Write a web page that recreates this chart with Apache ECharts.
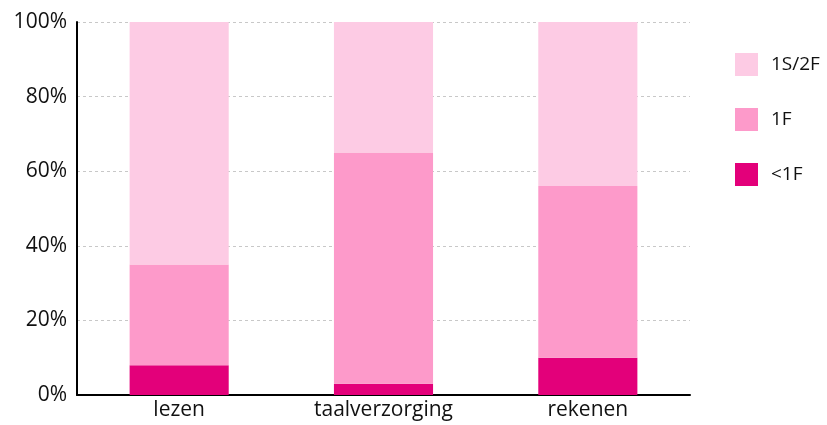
<!DOCTYPE html>
<html>
<head>
<meta charset="utf-8">
<script src="https://cdn.jsdelivr.net/npm/echarts@6/dist/echarts.min.js"></script>
<style>
    html,body{margin:0;padding:0;background:#fff;}
    #chart{width:827px;height:425px;}
</style>
</head>
<body>
<div id="chart"></div>
<script>
    // categorieën en percentages
    var categories = ['lezen', 'taalverzorging', 'rekenen'];
    var onder1F = [8, 3, 10];
    var niveau1F = [27, 62, 46];
    var niveau1S2F = [65, 35, 44];
    var yTicks = [0, 20, 40, 60, 80, 100];

    var colorList = ['#e3007a', '#fd9aca', '#fdcbe4'];
    var fontName = '"Open Sans", "Noto Sans", sans-serif';

    var myChart = echarts.init(document.getElementById('chart'));
    var option = {
        animation: false,
        textStyle: {fontFamily: fontName},
        grid: {left: 77, right: 137, top: 22, bottom: 30},
        legend: {
            orient: 'vertical',
            left: 730,
            top: 48,
            itemWidth: 23,
            itemHeight: 23,
            itemGap: 32,
            icon: 'rect',
            textStyle: {fontSize: 19, color: '#111', fontFamily: fontName, padding: [0, 0, 0, 8]},
            data: ['1S/2F', '1F', '<1F']
        },
        xAxis: {
            type: 'category',
            data: categories,
            axisLine: {lineStyle: {color: '#000', width: 2}},
            axisTick: {show: false},
            axisLabel: {fontSize: 21, color: '#111', margin: 5}
        },
        yAxis: {
            type: 'value',
            min: yTicks[0],
            max: yTicks[yTicks.length - 1],
            interval: 20,
            axisLine: {show: true, lineStyle: {color: '#000', width: 2}},
            axisTick: {show: false},
            axisLabel: {fontSize: 21, color: '#111', margin: 10, formatter: '{value}%'},
            splitLine: {lineStyle: {color: '#c8c8c8', type: [3, 3]}}
        },
        series: [
            {name: '<1F', type: 'bar', stack: 'tot', barWidth: '48.5%', data: onder1F, itemStyle: {color: colorList[0]}},
            {name: '1F', type: 'bar', stack: 'tot', data: niveau1F, itemStyle: {color: colorList[1]}},
            {name: '1S/2F', type: 'bar', stack: 'tot', data: niveau1S2F, itemStyle: {color: colorList[2]}}
        ]
    };
    myChart.setOption(option);
</script>
</body>
</html>
